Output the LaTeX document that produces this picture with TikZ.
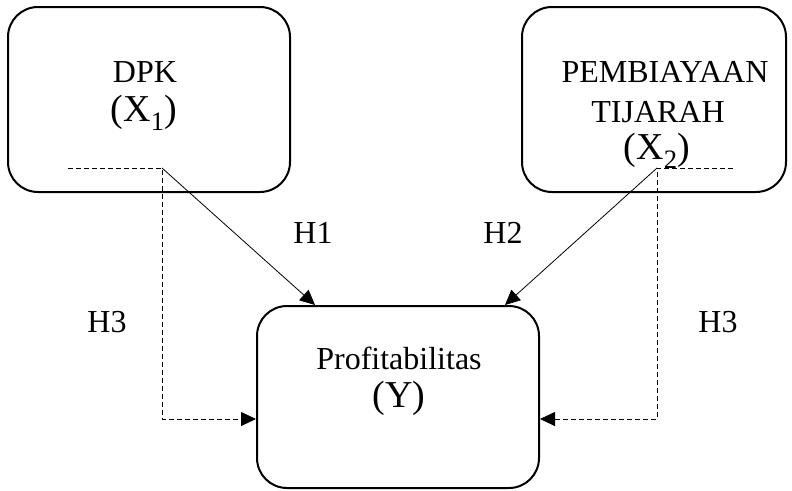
\documentclass[tikz,border=0pt]{standalone}
\usepackage{fontspec}
\setmainfont{Liberation Serif}
\usetikzlibrary{arrows.meta}

\tikzset{
  box/.style={draw, line width=2pt, rounded corners=30pt, inner sep=0pt},
  txt/.style={font=\fontsize{32}{35}\selectfont},
  bigtxt/.style={font=\fontsize{38}{41}\selectfont},
  arr/.style={line width=0.8pt, -{Triangle[length=15pt,width=14pt]}},
  dashline/.style={arr, dash pattern=on 5pt off 3pt}
}

\begin{document}
\begin{tikzpicture}[x=1pt,y=-1pt]
\useasboundingbox (0,0) rectangle (792,490);

% boxes first
\node[box, minimum width=282pt, minimum height=185pt] (dpk) at (149,99.5) {};
\node[box, minimum width=264pt, minimum height=185pt] (tijarah) at (654,99.5) {};
\node[box, minimum width=282pt, minimum height=182pt] (prof) at (398,397) {};

% texts inside
\node[txt] (dpkname) at (145,72) {DPK};
\node[bigtxt] (xone) at (144,113) {(X\textsubscript{1})};
\node[txt] (tijname) at (665,72) {PEMBIAYAAN};
\node[txt] (tijname2) at (658,112) {TIJARAH};
\node[bigtxt] (xtwo) at (657,151) {(X\textsubscript{2})};
\node[txt] (profname) at (399,358) {Profitabilitas};
\node[bigtxt] (yname) at (399,398) {(Y)};

% hypothesis labels
\node[txt] (hone) at (313,233) {H1};
\node[txt] (htwo) at (503,233) {H2};
\node[txt] (hthreel) at (107,322) {H3};
\node[txt] (hthreer) at (718,322) {H3};

% then the arrows
\coordinate (lend) at (68,168);
\coordinate (ljoin) at (162,168);
\coordinate (rjoin) at (657,168);
\coordinate (rend) at (733,168);

\draw[arr] (ljoin) -- ([xshift=-83pt]prof.north);
\draw[arr] (rjoin) -- ([xshift=107pt]prof.north);
\draw[dashline] (lend) -- (ljoin) |- ([yshift=-22pt]prof.west);
\draw[dashline] (rend) -- (rjoin) |- ([yshift=-22pt]prof.east);
\end{tikzpicture}
\end{document}
